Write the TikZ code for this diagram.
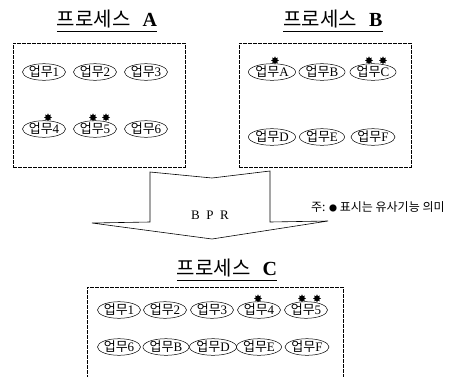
\documentclass[tikz,border=0pt]{standalone}
\usepackage{fontspec}
\setmainfont{Liberation Serif}
\newfontfamily\kr{Noto Sans CJK KR}
\usetikzlibrary{shapes.geometric}
\tikzset{
  task/.style={ellipse, draw, line width=0.5pt, inner sep=0pt,
    minimum width=42pt, minimum height=16pt, font=\fontsize{13}{13}\selectfont},
  procbox/.style={draw, line width=0.6pt, dash pattern=on 4pt off 1pt,
    inner sep=0pt},
  proctitle/.style={inner sep=0pt, font=\fontsize{20}{20}\selectfont},
  dot/.style={star, star points=8, star point ratio=1.7, fill=black,
    inner sep=0pt, minimum size=8pt},
}
\newcommand{\work}[1]{{\kr 업무}#1}
\newcommand{\ptitle}[1]{{\kr 프로세스}\hspace{12pt}\textbf{#1}}
\begin{document}
\begin{tikzpicture}[x=1pt, y=-1pt]
\useasboundingbox (0,0) rectangle (456,376);
\clip (0,0) rectangle (456,376);

% titles
\node[proctitle] (tA) at (107,19) {\ptitle{A}};
\node[proctitle] (tB) at (333,19) {\ptitle{B}};
\node[proctitle] (tC) at (227,268) {\ptitle{C}};
\foreach \t in {tA,tB,tC}
  \draw[line width=0.6pt] ([yshift=-3pt]\t.south west) -- ([yshift=-3pt]\t.south east);

% process boxes
\node[procbox, minimum width=172pt, minimum height=124pt] (bA) at (99,105) {};
\node[procbox, minimum width=172pt, minimum height=124pt] (bB) at (325,105) {};
\node[procbox, minimum width=256pt, minimum height=110pt] (bC) at (215,342) {};

% process A
\node[task] (a1) at (44,72) {\work{1}};
\node[task] (a2) at (95,72) {\work{2}};
\node[task] (a3) at (146,72) {\work{3}};
\node[task] (a4) at (44,129) {\work{4}};
\node[task] (a5) at (95,129) {\work{5}};
\node[task] (a6) at (146,129) {\work{6}};

% process B
\node[task] (bA1) at (272,72) {\work{A}};
\node[task] (bB1) at (322,72) {\work{B}};
\node[task] (bC1) at (373,72) {\work{C}};
\node[task] (bD1) at (272,137) {\work{D}};
\node[task] (bE1) at (322,137) {\work{E}};
\node[task] (bF1) at (373,137) {\work{F}};

% process C
\node[task] (c1) at (119,310) {\work{1}};
\node[task] (c2) at (165,310) {\work{2}};
\node[task] (c3) at (212,310) {\work{3}};
\node[task] (c4) at (259,310) {\work{4}};
\node[task] (c5) at (306,310) {\work{5}};
\node[task] (c6) at (119,347) {\work{6}};
\node[task] (cB) at (166,347) {\work{B}};
\node[task] (cD) at (213,347) {\work{D}};
\node[task] (cE) at (259,347) {\work{E}};
\node[task] (cF) at (307,347) {\work{F}};

% similar-function markers
\node[dot] (s1) at ([shift={(4,-3)}]a4.north) {};
\node[dot] (s2) at ([shift={(-2,-3)}]a5.north) {};
\node[dot] (s3) at ([shift={(11,-3)}]a5.north) {};
\node[dot] (s4) at ([shift={(3,-3)}]bA1.north) {};
\node[dot] (s5) at ([shift={(-4,-3)}]bC1.north) {};
\node[dot] (s6) at ([shift={(10,-3)}]bC1.north) {};
\node[dot] (s7) at ([shift={(-1,-3)}]c4.north) {};
\node[dot] (s8) at ([shift={(-4,-3)}]c5.north) {};
\node[dot] (s9) at ([shift={(11,-3)}]c5.north) {};

% BPR block arrow
\draw[line width=0.6pt] (150,172) -- (212,178) -- (270,171) -- (270,222)
  -- (328,221) -- (212,239) -- (92,223) -- (150,222) -- cycle;
\node[inner sep=0pt, font=\fontsize{13}{13}\selectfont] (bpr) at (210,215) {B\,\,\,P\,\,\,R};

% note
\node[inner sep=0pt, anchor=west, font=\fontsize{12}{12}\selectfont] (note) at (311,207)
  {\kr 주: {\fontsize{8}{8}\selectfont ●} 표시는 유사기능 의미};
\end{tikzpicture}
\end{document}
